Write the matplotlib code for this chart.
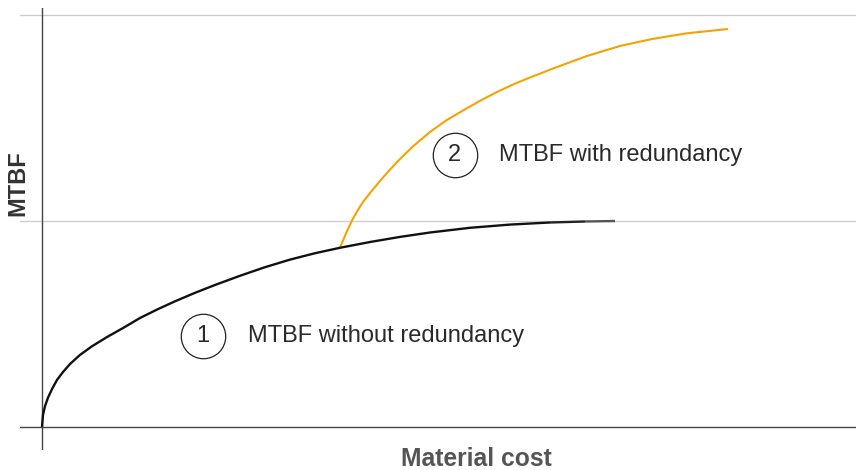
import matplotlib
matplotlib.use('Agg')
import matplotlib.pyplot as plt
from matplotlib.collections import LineCollection

plt.rcParams['font.family'] = ['Liberation Sans', 'DejaVu Sans']

# material cost (0-100) vs MTBF (0-100)
cost_plain = [0, 0.12, 0.37, 0.74, 1.23, 1.84, 2.58, 3.44, 4.67, 6.14, 7.99, 10.07, 12.04, 14.13,
              16.34, 18.80, 21.25, 24.32, 27.40, 30.47, 33.54, 36.61, 40.29, 43.98, 47.67,
              52.58, 57.49, 62.41, 66.71, 70.39]
mtbf_plain = [0, 2.91, 5.05, 7.14, 9.20, 11.41, 13.35, 15.29, 17.50, 19.59, 21.84, 24.15, 26.46, 28.50,
              30.51, 32.57, 34.47, 36.70, 38.79, 40.63, 42.18, 43.50, 44.90, 46.14, 47.21,
              48.35, 49.13, 49.64, 49.88, 50.0]

cost_redund = [36.61, 37.35, 38.08, 38.70, 39.43, 40.42, 41.52, 42.51, 43.61, 45.58, 47.67, 49.63,
               51.72, 53.81, 55.90, 57.86, 59.95, 62.78, 66.95, 71.01, 75.06, 79.24, 84.28]
mtbf_redund = [43.50, 47.01, 50.12, 52.31, 54.61, 57.09, 59.71, 61.94, 64.32, 68.13, 71.60, 74.39,
               76.82, 79.17, 81.31, 83.13, 84.83, 87.01, 90.05, 92.48, 94.22, 95.56, 96.60]

labels = ['MTBF without redundancy', 'MTBF with redundancy']
label_num = ['1', '2']

fig = plt.figure(figsize=(8.56, 4.70), dpi=100)
ax = fig.add_axes([20 / 856, 20 / 470, 836 / 856, 442 / 470])
ax.set_xlim(-22 / 8.14, 100)
ax.set_ylim(-23 / 4.12, 419 / 4.12)
ax.axis('off')

# grid lines and axes
ax.axhline(100, color='#cccccc', lw=0.9, zorder=1)
ax.axhline(50, color='#cccccc', lw=0.9, zorder=1)
ax.axhline(0, color='#444444', lw=1.0, zorder=2)
ax.axvline(0, color='#444444', lw=1.0, zorder=2)

# black curve, fading out at its end
n_fade = 3
ax.plot(cost_plain[:-n_fade + 1], mtbf_plain[:-n_fade + 1], color='#111111', lw=1.7,
        solid_capstyle='butt', zorder=4)
pts = list(zip(cost_plain[-n_fade:], mtbf_plain[-n_fade:]))
segs = [[pts[i], pts[i + 1]] for i in range(len(pts) - 1)]
ax.add_collection(LineCollection(segs, colors=['#222222', '#555555'], linewidths=1.7, zorder=4))

ax.plot(cost_redund, mtbf_redund, color='#f4a300', lw=1.5, solid_capstyle='butt', zorder=3)

# numbered labels
pos = [(19.8, 22.1), (50.7, 66.0)]
for (cx, cy), n, lab in zip(pos, label_num, labels):
    ax.plot([cx], [cy], marker='o', ms=32, mfc='none', mec='#222222', mew=0.9)
    ax.text(cx, cy, n, ha='center', va='center', fontsize=17, color='#2a2a2a')
    ax.text(cx + 5.5, cy, lab, ha='left', va='center', fontsize=17, color='#2a2a2a')

fig.text(476 / 856, 1 - 459 / 470, 'Material cost', ha='center', va='center',
         fontsize=17.7, fontweight='bold', color='#555555')
fig.text(18 / 856, 1 - 183 / 470, 'MTBF', ha='center', va='center', rotation=90,
         fontsize=17, fontweight='bold', color='#333333')

fig.savefig('out.png', dpi=100)
